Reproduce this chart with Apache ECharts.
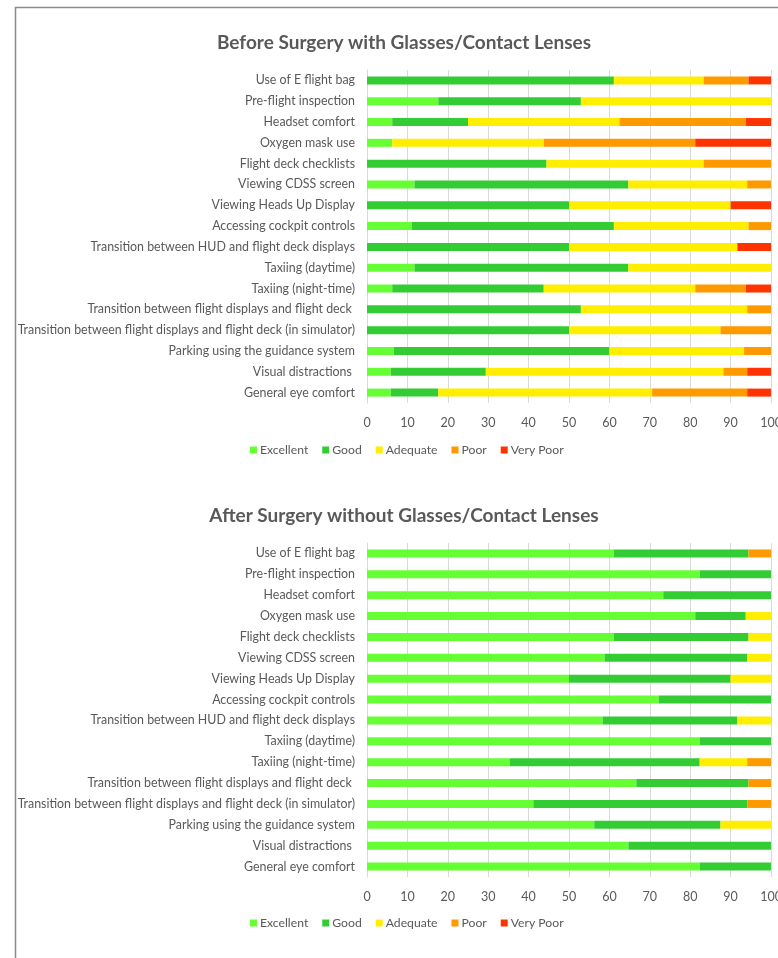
<!DOCTYPE html>
<html>
<head>
<meta charset="utf-8">
<script src="https://cdn.jsdelivr.net/npm/echarts@6/dist/echarts.min.js"></script>
<style>
html, body { margin: 0; padding: 0; background: #fff; }
#main { width: 778px; height: 958px; }
</style>
</head>
<body>
<div id="main"></div>
<script>
var categories = [
	'Use of E flight bag',
	'Pre-flight inspection',
	'Headset comfort',
	'Oxygen mask use',
	'Flight deck checklists',
	'Viewing CDSS screen',
	'Viewing Heads Up Display',
	'Accessing cockpit controls',
	'Transition between HUD and flight deck displays',
	'Taxiing (daytime)',
	'Taxiing (night-time)',
	'Transition between flight displays and flight deck ',
	'Transition between flight displays and flight deck (in simulator)',
	'Parking using the guidance system',
	'Visual distractions ',
	'General eye comfort'
];
var ratings = ['Excellent', 'Good', 'Adequate', 'Poor', 'Very Poor'];
var colors = ['#66ff33', '#33cc33', '#ffee00', '#ff9900', '#ff3300'];
var xTicks = [0, 10, 20, 30, 40, 50, 60, 70, 80, 90, 100];

// Before surgery (percent of respondents)
var beforeExcellent = [0, 17.65, 6.25, 6.25, 0, 11.76, 0, 11.11, 0, 11.76, 6.25, 0, 0, 6.67, 5.88, 5.88];
var beforeGood      = [61.11, 35.29, 18.75, 0, 44.44, 52.94, 50, 50, 50, 52.94, 37.5, 52.94, 50, 53.33, 23.53, 11.76];
var beforeAdequate  = [22.22, 47.06, 37.5, 37.5, 38.89, 29.41, 40, 33.33, 41.67, 35.29, 37.5, 41.18, 37.5, 33.33, 58.82, 52.94];
var beforePoor      = [11.11, 0, 31.25, 37.5, 16.67, 5.88, 0, 5.56, 0, 0, 12.5, 5.88, 12.5, 6.67, 5.88, 23.53];
var beforeVeryPoor  = [5.56, 0, 6.25, 18.75, 0, 0, 10, 0, 8.33, 0, 6.25, 0, 0, 0, 5.88, 5.88];

// After surgery (percent of respondents)
var afterExcellent = [61.11, 82.35, 73.33, 81.25, 61.11, 58.82, 50, 72.22, 58.33, 82.35, 35.29, 66.67, 41.18, 56.25, 64.71, 82.35];
var afterGood      = [33.33, 17.65, 26.67, 12.5, 33.33, 35.29, 40, 27.78, 33.33, 17.65, 47.06, 27.78, 52.94, 31.25, 35.29, 17.65];
var afterAdequate  = [0, 0, 0, 6.25, 5.56, 5.88, 10, 0, 8.33, 0, 11.76, 0, 0, 12.5, 0, 0];
var afterPoor      = [5.56, 0, 0, 0, 0, 0, 0, 0, 0, 0, 5.88, 5.56, 5.88, 0, 0, 0];
var afterVeryPoor  = [0, 0, 0, 0, 0, 0, 0, 0, 0, 0, 0, 0, 0, 0, 0, 0];

var beforeData = [beforeExcellent, beforeGood, beforeAdequate, beforePoor, beforeVeryPoor];
var afterData = [afterExcellent, afterGood, afterAdequate, afterPoor, afterVeryPoor];

var textColor = '#595959';
var font = 'Lato';

function xAxis(gridIndex) {
	return {
		type: 'value', gridIndex: gridIndex,
		min: xTicks[0], max: xTicks[xTicks.length - 1], interval: 10,
		axisLine: { show: false }, axisTick: { show: false },
		splitLine: { lineStyle: { color: '#d9d9d9' } },
		axisLabel: { color: textColor, fontFamily: font, fontSize: 12.5, margin: 13 }
	};
}
function yAxis(gridIndex) {
	return {
		type: 'category', gridIndex: gridIndex, data: categories, inverse: true,
		axisLine: { lineStyle: { color: '#d9d9d9' } }, axisTick: { show: false },
		axisLabel: { color: textColor, fontFamily: font, fontSize: 12.4, margin: 12 }
	};
}
function legend(top) {
	return {
		data: ratings, top: top, left: 245, itemWidth: 7, itemHeight: 7, itemGap: 14,
		icon: 'rect',
		textStyle: { color: textColor, fontFamily: font, fontSize: 12.2, padding: [0, 0, 0, -2] }
	};
}

var series = [];
ratings.forEach(function(name, i) {
	series.push({
		name: name, type: 'bar', stack: 'before', xAxisIndex: 0, yAxisIndex: 0,
		barWidth: 8, itemStyle: { color: colors[i] }, data: beforeData[i]
	});
	series.push({
		name: name, type: 'bar', stack: 'after', xAxisIndex: 1, yAxisIndex: 1,
		barWidth: 8, itemStyle: { color: colors[i] }, data: afterData[i]
	});
});

var myChart = echarts.init(document.getElementById('main'));
var option = {
	animation: false,
	color: colors,
	title: [{
		text: 'Before Surgery with Glasses/Contact Lenses', left: 399, top: 28, textAlign: 'center',
		textStyle: { color: textColor, fontFamily: font, fontSize: 19, fontWeight: 'bold' }
	}, {
		text: 'After Surgery without Glasses/Contact Lenses', left: 399, top: 501, textAlign: 'center',
		textStyle: { color: textColor, fontFamily: font, fontSize: 19, fontWeight: 'bold' }
	}],
	legend: [legend(439), legend(912)],
	grid: [
		{ left: 367, right: 7, top: 70, height: 333, containLabel: false, outerBoundsMode: 'none' },
		{ left: 367, right: 7, top: 543, height: 334, containLabel: false, outerBoundsMode: 'none' }
	],
	xAxis: [xAxis(0), xAxis(1)],
	yAxis: [yAxis(0), yAxis(1)],
	series: series,
	graphic: [{
		type: 'polyline', silent: true,
		shape: { points: [[15.5, 958], [15.5, 7.5], [778, 7.5]] },
		style: { stroke: '#8c8c8c', lineWidth: 1.5, fill: null }
	}]
};
myChart.setOption(option);
</script>
</body>
</html>
